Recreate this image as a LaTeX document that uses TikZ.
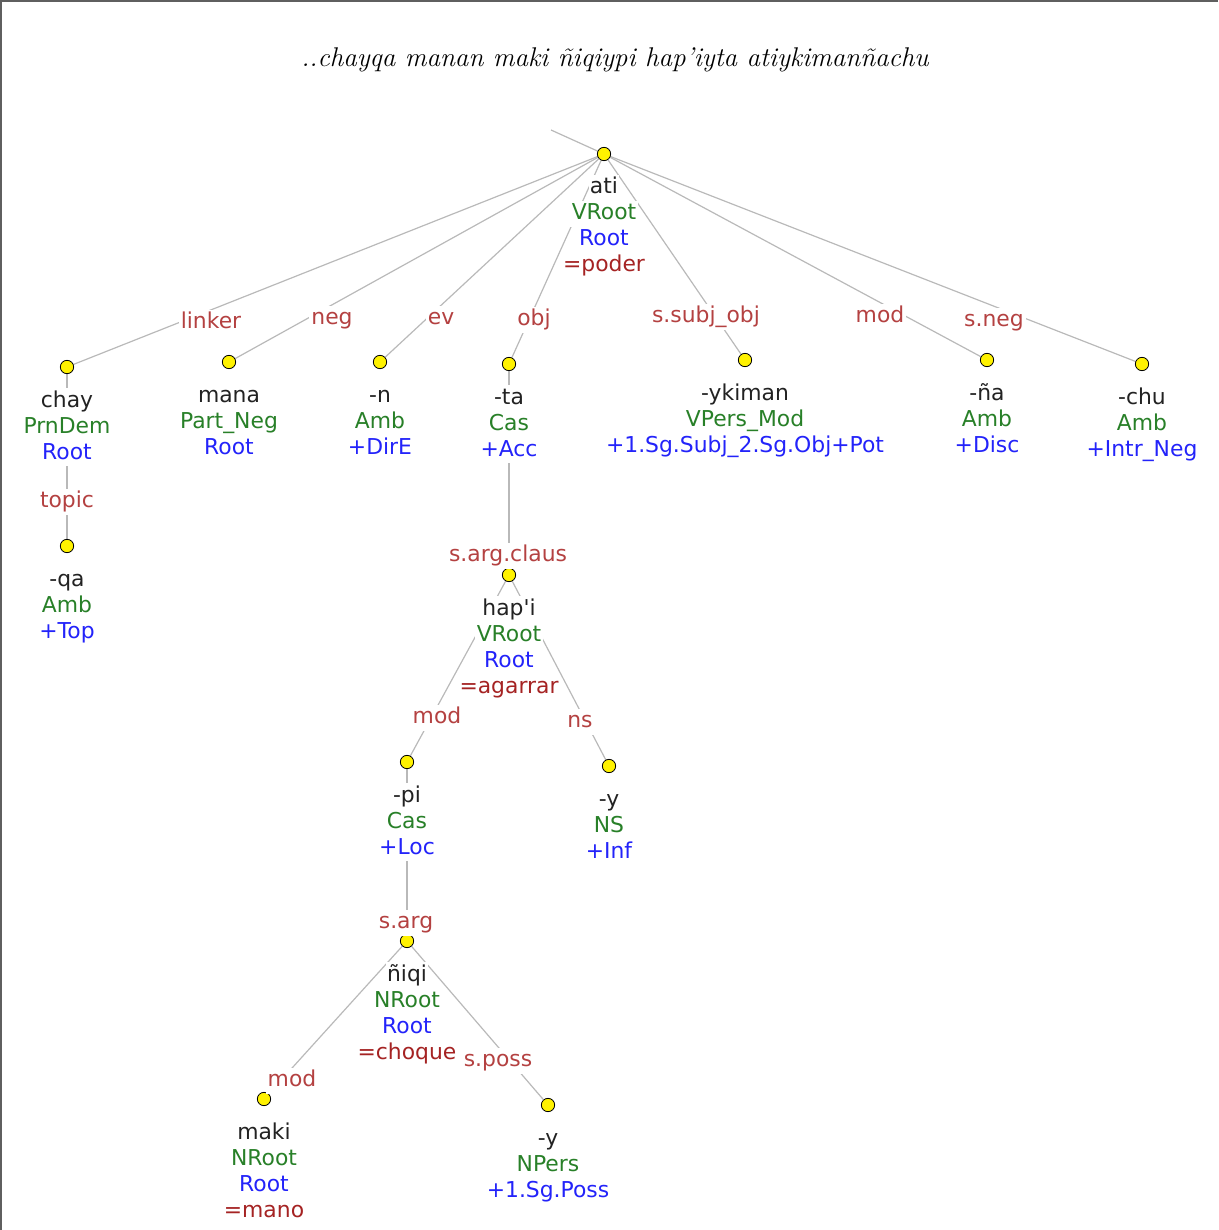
\documentclass[tikz,border=0pt]{standalone}
\usepackage{fontspec}
\newfontfamily\dv{DejaVu Sans}
\usetikzlibrary{backgrounds}
\definecolor{wcol}{RGB}{34,34,34}
\definecolor{ccol}{RGB}{40,128,40}
\definecolor{tcol}{RGB}{35,35,250}
\definecolor{lcol}{RGB}{165,35,35}
\definecolor{ecol}{RGB}{180,65,65}
\definecolor{gcol}{RGB}{185,185,185}
\definecolor{fcol}{RGB}{95,95,95}
\tikzset{
  dot/.style={circle,draw=black,fill=yellow,minimum size=10pt,inner sep=0pt,line width=0.6pt},
  lx/.style={font=\dv\fontsize{16.4}{19.5}\selectfont,inner xsep=1pt,inner ysep=0pt,
    text height=14pt,text depth=5.5pt,fill=white,anchor=base},
  wline/.style={lx,text=wcol},
  cline/.style={lx,text=ccol},
  tline/.style={lx,text=tcol},
  lline/.style={lx,text=lcol},
  elab/.style={font=\dv\fontsize{16.4}{19.5}\selectfont,inner xsep=1.5pt,inner ysep=0pt,
    text height=14pt,text depth=5.5pt,fill=white,text=ecol},
  edge/.style={draw=gcol,line width=0.9pt},
  frame/.style={draw=fcol,line width=1.5pt}
}
\newcommand\lexnode[7]{%
  \node[dot] (#1) at (#2,#3) {};
  \node[wline] (#1-w) at (#2,{#3+40}) {#4};
  \node[cline] (#1-c) at (#2,{#3+66}) {#5};
  \node[tline] (#1-t) at (#2,{#3+92}) {#6};
  \ifx\relax#7\relax\else\node[lline] (#1-l) at (#2,{#3+118}) {#7};\fi
}
\begin{document}
\begin{tikzpicture}[x=0.75pt,y=-0.75pt]
\useasboundingbox (0,0) rectangle (1218,1230);
\draw[frame] (1,1230) -- (1,1) -- (1218,1);
\node (title) at (615,60) {\fontsize{20.3}{24}\selectfont\itshape ..chayqa manan maki ñiqiypi hap’iyta atiykimanñachu};

\lexnode{ati}{604}{154}{ati}{VRoot}{Root}{=poder}
\lexnode{chay}{67}{367}{chay}{PrnDem}{Root}{}
\lexnode{qa}{67}{546}{-qa}{Amb}{+Top}{}
\lexnode{mana}{229}{362}{mana}{Part\_Neg}{Root}{}
\lexnode{n}{380}{362}{-n}{Amb}{+DirE}{}
\lexnode{ta}{509}{364}{-ta}{Cas}{+Acc}{}
\lexnode{hapi}{509}{575}{hap\textquotesingle i}{VRoot}{Root}{=agarrar}
\lexnode{pi}{407}{762}{-pi}{Cas}{+Loc}{}
\lexnode{yA}{609}{766}{-y}{NS}{+Inf}{}
\lexnode{niqi}{407}{941}{ñiqi}{NRoot}{Root}{=choque}
\lexnode{maki}{264}{1099}{maki}{NRoot}{Root}{=mano}
\lexnode{yB}{548}{1105}{-y}{NPers}{+1.Sg.Poss}{}
\lexnode{ykiman}{745}{360}{-ykiman}{VPers\_Mod}{+1.Sg.Subj\_2.Sg.Obj+Pot}{}
\lexnode{na}{987}{360}{-ña}{Amb}{+Disc}{}
\lexnode{chu}{1142}{364}{-chu}{Amb}{+Intr\_Neg}{}

\node[elab] (e-linker) at (211,323) {linker};
\node[elab] (e-neg) at (332,319) {neg};
\node[elab] (e-ev) at (441,319) {ev};
\node[elab] (e-obj) at (534,320) {obj};
\node[elab] (e-subj) at (706,317) {s.subj\_obj};
\node[elab] (e-mod1) at (880,317) {mod};
\node[elab] (e-sneg) at (994,321) {s.neg};
\node[elab] (e-topic) at (67,502) {topic};
\node[elab] (e-claus) at (508,556) {s.arg.claus};
\node[elab] (e-mod2) at (437,718) {mod};
\node[elab] (e-ns) at (580,722) {ns};
\node[elab] (e-sarg) at (406,923) {s.arg};
\node[elab] (e-mod3) at (292,1081) {mod};
\node[elab] (e-poss) at (498,1061) {s.poss};

\coordinate (hid) at (551,130);
\begin{scope}[on background layer]
\draw[edge] (hid) -- (ati);
\draw[edge] (ati) -- (chay);
\draw[edge] (ati) -- (mana);
\draw[edge] (ati) -- (n);
\draw[edge] (ati) -- (ta);
\draw[edge] (ati) -- (ykiman);
\draw[edge] (ati) -- (na);
\draw[edge] (ati) -- (chu);
\draw[edge] (chay) -- (qa);
\draw[edge] (ta) -- (hapi);
\draw[edge] (hapi) -- (pi);
\draw[edge] (hapi) -- (yA);
\draw[edge] (pi) -- (niqi);
\draw[edge] (niqi) -- (maki);
\draw[edge] (niqi) -- (yB);
\end{scope}
\end{tikzpicture}
\end{document}
